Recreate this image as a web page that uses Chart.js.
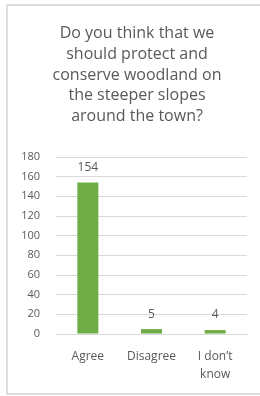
<!DOCTYPE html>
<html>
<head>
<meta charset="utf-8">
<script src="https://cdn.jsdelivr.net/npm/chart.js@4/dist/chart.umd.min.js"></script>
<style>
  html, body { margin: 0; padding: 0; background: #ffffff; overflow: hidden; }
  #frame { position: absolute; left: 6px; top: 4px; width: 300px; height: 387px; border: 2px solid #dedede; }
  #wrap { position: absolute; left: 0; top: 0; width: 260px; height: 396px; }
</style>
</head>
<body>
<div id="frame"></div>
<div id="wrap"><canvas id="c" width="260" height="396"></canvas></div>
<script>
const titleLines = ["Do you think that we", "should protect and", "conserve woodland on", "the steeper slopes", "around the town?"];
const categories = [["Agree"], ["Disagree"], ["I don\u2019t", "know"]];
const responses = [154, 5, 4];
const yTicks = { min: 0, max: 180, step: 20 };

const FONT = "'Open Sans', 'Liberation Sans', sans-serif";
const GREY = "#595959";

const valueLabels = {
  id: 'valueLabels',
  afterLayout(chart) {
    // centre the title over the framed chart box
    chart.titleBlock.left = 14;
    chart.titleBlock.right = 260;
  },
  afterDatasetsDraw(chart) {
    const ctx = chart.ctx;
    const meta = chart.getDatasetMeta(0);
    const ys = chart.scales.y;
    ctx.save();
    ctx.font = "12px " + FONT;
    ctx.fillStyle = GREY;
    ctx.textAlign = 'center';
    ctx.textBaseline = 'middle';
    meta.data.forEach((bar, i) => {
      const v = chart.data.datasets[0].data[i];
      ctx.fillText(String(v), bar.x, ys.getPixelForValue(v) - 15);
    });
    ctx.restore();
  }
};

new Chart(document.getElementById('c'), {
  type: 'bar',
  data: {
    labels: categories,
    datasets: [{
      data: responses,
      backgroundColor: '#70AD47',
      borderWidth: 0,
      barPercentage: 0.66,
      categoryPercentage: 0.5
    }]
  },
  options: {
    responsive: false,
    animation: false,
    layout: { padding: { left: 8, right: 13, top: 0, bottom: 0 } },
    plugins: {
      legend: { display: false },
      tooltip: { enabled: false },
      title: {
        display: true,
        text: titleLines,
        color: GREY,
        font: { family: FONT, size: 16, weight: 'normal', lineHeight: 1.3 },
        padding: { top: 23, bottom: 30 }
      }
    },
    scales: {
      x: {
        grid: { display: false, drawTicks: false },
        border: { display: true, color: '#d9d9d9', width: 1 },
        ticks: {
          color: GREY,
          font: { family: FONT, size: 12, lineHeight: 1.5 },
          padding: 14,
          maxRotation: 0,
          autoSkip: false
        },
        afterFit(scale) { scale.height = 62; }
      },
      y: {
        min: yTicks.min,
        max: yTicks.max,
        grid: { color: '#d9d9d9', lineWidth: 1, drawTicks: false },
        border: { display: false },
        ticks: {
          stepSize: yTicks.step,
          color: GREY,
          font: { family: FONT, size: 11 },
          padding: 16
        },
        afterFit(scale) { scale.width = 48; }
      }
    }
  },
  plugins: [valueLabels]
});
</script>
</body>
</html>
